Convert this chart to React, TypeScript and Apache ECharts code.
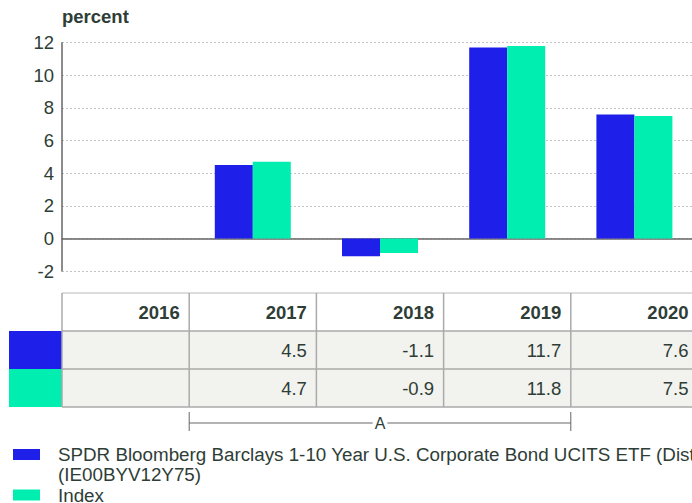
import { useEffect, useRef } from "react";
import * as echarts from "echarts";

const categories = ["2016", "2017", "2018", "2019", "2020"];
const fundValues: (number | null)[] = [null, 4.5, -1.1, 11.7, 7.6];
const indexValues: (number | null)[] = [null, 4.7, -0.9, 11.8, 7.5];
const fundName = "SPDR Bloomberg Barclays 1-10 Year U.S. Corporate Bond UCITS ETF (Dist)";
const fundIsin = "(IE00BYV12Y75)";
const indexName = "Index";
const unitLabel = "percent";
const yMin = -2;
const yMax = 12;
const yStep = 2;
const bracketLabel = "A";
const bracketFrom = 1; // 2017
const bracketTo = 3; // 2019

const BLUE = "#1e1fe8";
const GREEN = "#00efb0";
const TEXT = "#2e3d36";
const FONT = "'Liberation Sans', Arial, sans-serif";
const FS = 18.5;
const LFS = 18.8;

function fmt(v: number | null) {
  return v === null ? "" : v.toFixed(1);
}

export default function App() {
  const ref = useRef<HTMLDivElement>(null);
  useEffect(() => {
    if (!ref.current) return;
    const chart = echarts.init(ref.current, undefined, { renderer: "svg" });
    chart.setOption({
      animation: false,
      textStyle: { fontFamily: FONT },
      grid: { left: 62, right: 0, top: 42.7, bottom: 232 },
      xAxis: {
        type: "category",
        data: categories,
        axisLine: { onZero: true, lineStyle: { color: "#666", width: 1.5 } },
        axisTick: { show: false },
        axisLabel: { show: false },
        splitLine: { show: false },
      },
      yAxis: {
        type: "value",
        min: yMin,
        max: yMax,
        interval: yStep,
        axisLine: { show: true, lineStyle: { color: "#666", width: 1.5 } },
        axisTick: { show: false },
        axisLabel: { fontSize: FS, color: TEXT, margin: 8, fontFamily: FONT },
        splitLine: { lineStyle: { type: [2, 2], color: "#c4c4c4", width: 1 } },
      },
      legend: [
        {
          data: [fundName],
          orient: "vertical",
          left: 13,
          top: 444.5,
          padding: 0,
          itemWidth: 27,
          itemHeight: 11,
          icon: "rect",
          selectedMode: false,
          textStyle: { fontSize: LFS, color: TEXT, fontFamily: FONT, lineHeight: 20, padding: [0, 0, 0, 13] },
        },
        {
          data: [indexName],
          orient: "vertical",
          left: 13,
          top: 485,
          padding: 0,
          itemWidth: 27,
          itemHeight: 11,
          icon: "rect",
          selectedMode: false,
          textStyle: { fontSize: LFS, color: TEXT, fontFamily: FONT, lineHeight: 20, padding: [0, 0, 0, 13] },
        },
      ],
      series: [
        { type: "bar", name: fundName, data: fundValues, barWidth: 38, barGap: "0%", itemStyle: { color: BLUE } },
        { type: "bar", name: indexName, data: indexValues, barWidth: 38, barGap: "0%", itemStyle: { color: GREEN } },
      ],
    });

    const centers = categories.map((_, i) => chart.convertToPixel({ xAxisIndex: 0 }, i) as number);
    const colW = centers[1] - centers[0];
    const bounds = [centers[0] - colW / 2, ...centers.map((c) => c + colW / 2)];
    const tLeft = bounds[0];
    const tRight = bounds[bounds.length - 1];
    const top = 293;
    const rh = 38;
    const g: any[] = [];
    g.push({ type: "text", left: 62, top: 7, style: { text: unitLabel, font: `bold ${FS}px ${FONT}`, fill: TEXT } });
    g.push({ type: "text", x: 58, y: 474.5, style: { text: fundIsin, font: `${LFS}px ${FONT}`, fill: TEXT, verticalAlign: "middle" } });
    g.push({ type: "rect", shape: { x: tLeft, y: top + rh, width: tRight - tLeft, height: rh * 2 }, style: { fill: "#f2f2ee" } });
    g.push({ type: "rect", shape: { x: 9, y: top + rh, width: tLeft - 9, height: rh }, style: { fill: BLUE } });
    g.push({ type: "rect", shape: { x: 9, y: top + rh * 2, width: tLeft - 9, height: rh }, style: { fill: GREEN } });
    g.push({ type: "line", shape: { x1: tLeft, y1: top, x2: tRight, y2: top }, style: { stroke: "#d0d0d0", lineWidth: 1.5 } });
    [1, 2, 3].forEach((r) =>
      g.push({ type: "line", shape: { x1: tLeft, y1: top + rh * r, x2: tRight, y2: top + rh * r }, style: { stroke: "#aaa", lineWidth: 1.5 } })
    );
    bounds.forEach((b) =>
      g.push({ type: "line", shape: { x1: b, y1: top, x2: b, y2: top + rh * 3 }, style: { stroke: "#aaa", lineWidth: 1.5 } })
    );
    categories.forEach((c, i) => {
      const xr = bounds[i + 1] - 9.5;
      g.push({ type: "text", x: xr, y: top + rh / 2, style: { text: c, font: `bold ${FS}px ${FONT}`, fill: TEXT, align: "right", verticalAlign: "middle" } });
      g.push({ type: "text", x: xr, y: top + rh * 1.5, style: { text: fmt(fundValues[i]), font: `${FS}px ${FONT}`, fill: TEXT, align: "right", verticalAlign: "middle" } });
      g.push({ type: "text", x: xr, y: top + rh * 2.5, style: { text: fmt(indexValues[i]), font: `${FS}px ${FONT}`, fill: TEXT, align: "right", verticalAlign: "middle" } });
    });
    const bx1 = bounds[bracketFrom];
    const bx2 = bounds[bracketTo + 1];
    const by = 423;
    g.push({ type: "line", shape: { x1: bx1, y1: 412, x2: bx1, y2: 431 }, style: { stroke: "#666", lineWidth: 1 } });
    g.push({ type: "line", shape: { x1: bx2, y1: 412, x2: bx2, y2: 431 }, style: { stroke: "#666", lineWidth: 1 } });
    g.push({ type: "line", shape: { x1: bx1, y1: by, x2: bx2, y2: by }, style: { stroke: "#666", lineWidth: 1 } });
    g.push({
      type: "text",
      x: (bx1 + bx2) / 2,
      y: by,
      style: { text: bracketLabel, font: `16px ${FONT}`, fill: TEXT, align: "center", verticalAlign: "middle", backgroundColor: "#fff", padding: [0, 2] },
    });
    chart.setOption({ graphic: g });
    return () => chart.dispose();
  }, []);
  return (
    <div style={{ position: "fixed", left: 0, top: 0, width: 692, height: 503, overflow: "hidden", background: "#fff" }}>
      <div ref={ref} style={{ width: 698, height: 503 }} />
    </div>
  );
}
